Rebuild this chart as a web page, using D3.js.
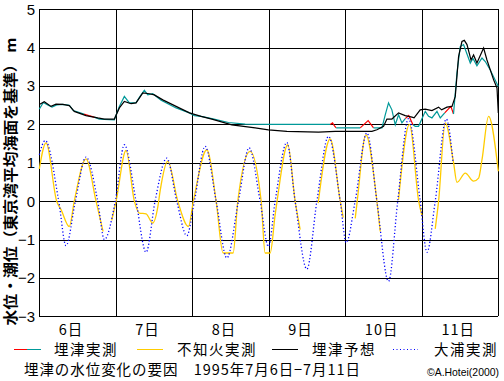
<!DOCTYPE html>
<html><head><meta charset="utf-8">
<script src="https://cdn.jsdelivr.net/npm/d3@7"></script>
<style>
html,body{margin:0;padding:0;background:#fff;}
svg{display:block;font-family:"Noto Sans CJK JP","Noto Sans",sans-serif;}
</style></head>
<body><svg id="c" width="504" height="381"></svg>
<script>
// ---- data ----
const dayLabels = ["6日","7日","8日","9日","10日","11日"];
const dayStarts = [6,7,8,9,10,11];
const yTicks = [-3,-2,-1,0,1,2,3,4,5];
const yTickLabels = ["−3","−2","−1","0","1","2","3","4","5"];
const yTitle = "水位・潮位（東京湾平均海面を基準） m";
const seriesNames = ["埋津実測","不知火実測","埋津予想","大浦実測"];
const footTitle = "埋津の水位変化の要因　1995年7月6日−7月11日";
const credit = "©A.Hotei(2000)";

// 埋津予想 (predicted) [day, m]
const umazuPred = [[6.004,2.52],[6.069,2.59],[6.157,2.47],[6.222,2.53],[6.310,2.52],[6.396,2.49],[6.461,2.34],
 [6.614,2.23],[6.767,2.17],[6.854,2.14],[6.984,2.14],[7.050,2.43],[7.115,2.60],[7.203,2.54],[7.268,2.56],
 [7.356,2.82],[7.442,2.80],[7.507,2.77],[7.617,2.64],[7.791,2.47],[7.965,2.30],[8.118,2.21],[8.258,2.14],
 [8.519,1.99],[8.824,1.91],[8.997,1.86],[9.238,1.82],[9.651,1.80],[9.869,1.82],[10.196,1.82],[10.349,1.82],
 [10.414,1.86],[10.501,1.95],[10.545,2.14],[10.610,2.14],[10.697,2.30],[10.784,2.23],[10.872,2.19],[10.900,2.17],
 [10.980,2.38],[11.046,2.40],[11.133,2.36],[11.220,2.45],[11.260,2.38],[11.329,2.45],[11.395,2.47],[11.438,2.73],
 [11.481,3.77],[11.525,4.16],[11.556,4.19],[11.591,4.08],[11.643,3.68],[11.677,3.81],[11.721,3.60],[11.808,3.99],
 [11.852,3.68],[11.939,3.16],[11.983,2.95],[12.000,2.30]];

// 埋津実測 (observed, teal; null = gap)
const umazuObs = [[6.004,2.40],[6.056,2.57],[6.114,2.51],[6.170,2.45],[6.231,2.51],[6.310,2.52],[6.396,2.50],
 [6.448,2.36],[6.588,2.27],null,[6.723,2.19],[6.788,2.14],[6.984,2.12],[7.050,2.47],[7.115,2.73],[7.180,2.56],
 [7.268,2.57],[7.320,2.73],[7.376,2.89],[7.421,2.77],[7.486,2.80],[7.595,2.63],[7.791,2.43],[7.965,2.30],
 [8.030,2.23],[8.118,2.21],[8.258,2.15],[8.475,2.05],[8.693,2.01],[8.997,2.00],[9.346,2.00],[9.804,2.00],null,
 [9.882,1.91],[10.196,1.91],null,[10.370,1.91],[10.480,1.91],[10.523,2.25],[10.566,2.56],[10.610,2.38],
 [10.654,1.99],[10.697,2.25],[10.741,2.04],[10.784,2.15],null,[10.885,1.99],[10.915,1.95],[10.958,1.95],
 [11.046,2.34],[11.089,2.21],[11.133,2.17],[11.199,2.34],[11.242,2.17],[11.300,2.30],null,[11.415,2.27],
 [11.460,3.34],[11.503,4.03],[11.546,4.08],[11.634,3.60],[11.669,3.72],[11.721,3.53],[11.787,3.73],
 [11.830,3.64],[11.895,3.42],[12.000,2.99]];

// 埋津実測 (observed, red segments)
const umazuObsRed = [[6.588,2.27],[6.650,2.23],[6.723,2.19],null,
 [9.804,2.00],[9.835,2.04],[9.860,1.96],[9.882,1.91],null,
 [10.196,1.91],[10.300,2.10],[10.370,1.91],null,
 [10.784,2.15],[10.830,2.23],[10.885,1.99],null,
 [11.300,2.30],[11.380,2.47],[11.415,2.27]];

// 不知火実測 (yellow; null = gap)
const shiranui = [[6.004,0.84],[6.092,1.52],[6.231,0.0],[6.288,-0.22],[6.396,-0.66],[6.461,0.0],[6.614,1.10],
 [6.745,0.0],[6.837,-0.79],null,
 [6.950,-0.50],[7.007,0.0],[7.137,1.32],[7.246,0.0],[7.311,-0.31],[7.399,-0.33],[7.486,-0.57],[7.552,-0.15],
 [7.582,0.26],[7.682,1.04],[7.813,0.0],[7.952,-0.66],[8.017,0.0],[8.192,1.34],[8.314,0.0],[8.405,-1.35],
 [8.536,-1.35],[8.597,0.0],[8.758,1.30],[8.902,0.0],[8.954,-1.35],[9.020,-1.35],[9.085,-0.35],[9.110,0.0],
 [9.250,1.47],[9.346,0.0],[9.412,-0.74],null,
 [9.647,-0.05],[9.804,1.62],[9.935,0.0],[9.974,-0.43],null,
 [10.131,-0.45],[10.157,0.0],[10.270,1.73],[10.414,0.0],[10.458,-0.79],null,
 [10.697,0.04],[10.840,2.00],[10.960,0.0],[11.003,-0.38],null,
 [11.176,-0.72],[11.220,0.0],[11.307,2.04],[11.416,1.00],[11.460,0.49],[11.569,0.73],[11.677,0.52],
 [11.743,0.60],[11.787,1.08],[11.873,2.21],[12.000,0.78]];

// 大浦実測 (blue dotted)
const oura = [[6.004,1.21],[6.082,1.58],[6.258,0.0],[6.353,-1.16],[6.475,0.0],[6.614,1.15],[6.767,0.0],
 [6.854,-1.00],[6.997,0.0],[7.115,1.47],[7.268,0.0],[7.399,-1.33],[7.516,0.0],[7.669,1.12],[7.800,0.0],
 [7.931,-0.90],[8.030,0.0],[8.170,1.43],[8.314,0.0],[8.454,-1.48],[8.605,0.0],[8.745,1.39],[8.889,0.0],
 [8.997,-1.18],[9.085,0.0],[9.238,1.53],[9.346,0.0],[9.499,-1.77],[9.630,0.0],[9.782,1.69],[9.935,0.0],
 [10.013,-1.08],[10.130,0.0],[10.284,1.78],[10.414,0.0],[10.566,-2.09],[10.686,0.0],[10.827,2.15],
 [10.980,0.0],[11.068,-1.33],[11.176,0.0],[11.320,2.14],[11.410,1.00]];

// ---- chart ----
const svg = d3.select("#c");
const x = d3.scaleLinear().domain([6,12]).range([39,498.3]);
const y = d3.scaleLinear().domain([-3,5]).range([316.3,9.3]);

const grid = svg.append("g").attr("shape-rendering","crispEdges").attr("stroke","#000").attr("stroke-width",1);
yTicks.forEach(v=>{
  grid.append("line").attr("x1",x(6)).attr("x2",x(12)).attr("y1",Math.round(y(v))+0.5).attr("y2",Math.round(y(v))+0.5);
});
[6,7,8,9,10,11,12].forEach(d=>{
  grid.append("line").attr("x1",Math.round(x(d))+0.5).attr("x2",Math.round(x(d))+0.5).attr("y1",y(5)).attr("y2",y(-3));
});

// y tick labels
svg.append("g").selectAll("text").data(yTicks).join("text")
  .attr("x",35).attr("y",d=>y(d)).attr("dy","0.36em").attr("text-anchor","end")
  .attr("font-size",15).attr("font-family","Liberation Sans, sans-serif").text((d,i)=>yTickLabels[i]);

// day labels
svg.append("g").selectAll("text").data(dayStarts).join("text")
  .attr("x",d=>x(d+0.27)-1).attr("y",335).attr("font-size",14.5).attr("letter-spacing",1)
  .text((d,i)=>dayLabels[i]);

// y title
svg.append("text").attr("transform",`translate(16,${(325+38)/2}) rotate(-90)`)
  .attr("text-anchor","middle").attr("font-size",14.5).attr("font-weight","bold")
  .attr("textLength",288).attr("lengthAdjust","spacingAndGlyphs").text(yTitle);

const line = d3.line().defined(d=>d!==null).x(d=>x(d[0])).y(d=>y(d[1]));
const smooth = d3.line().defined(d=>d!==null).x(d=>x(d[0])).y(d=>y(d[1])).curve(d3.curveMonotoneX);

const plot = svg.append("g");
plot.append("path").attr("d",smooth(shiranui)).attr("fill","none").attr("stroke","#FFCC00").attr("stroke-width",1.3);
plot.append("path").attr("d",smooth(oura)).attr("fill","none").attr("stroke","#0000FF").attr("stroke-width",1.3).attr("stroke-dasharray","1.2,2.2");
plot.append("path").attr("d",line(umazuObsRed)).attr("fill","none").attr("stroke","#FF0000").attr("stroke-width",1.2);
plot.append("path").attr("d",line(umazuObs)).attr("fill","none").attr("stroke","#009999").attr("stroke-width",1.2);
plot.append("path").attr("d",line(umazuPred)).attr("fill","none").attr("stroke","#000").attr("stroke-width",1.2);

// legend
const lg = svg.append("g");
const ly = 349.5;
lg.append("line").attr("x1",14).attr("x2",27).attr("y1",ly).attr("y2",ly).attr("stroke","#FF0000");
lg.append("line").attr("x1",27).attr("x2",41).attr("y1",ly).attr("y2",ly).attr("stroke","#009999");
lg.append("line").attr("x1",137).attr("x2",163).attr("y1",ly).attr("y2",ly).attr("stroke","#FFCC00");
lg.append("line").attr("x1",272).attr("x2",298).attr("y1",ly).attr("y2",ly).attr("stroke","#000");
lg.append("line").attr("x1",393).attr("x2",418).attr("y1",ly).attr("y2",ly).attr("stroke","#0000FF").attr("stroke-dasharray","1,2.5");
const legX = [54,177,312,434];
seriesNames.forEach((n,i)=>{
  lg.append("text").attr("x",legX[i]).attr("y",355).attr("font-size",14.5).attr("letter-spacing",1.5).text(n);
});

// footer
svg.append("text").attr("x",24).attr("y",375).attr("font-size",14.5)
  .attr("textLength",336).attr("lengthAdjust","spacing").text(footTitle);
svg.append("text").attr("x",499).attr("y",376).attr("text-anchor","end").attr("font-size",11)
  .attr("font-family","Liberation Sans, sans-serif").attr("textLength",72).attr("lengthAdjust","spacingAndGlyphs").text(credit);
</script></body></html>
